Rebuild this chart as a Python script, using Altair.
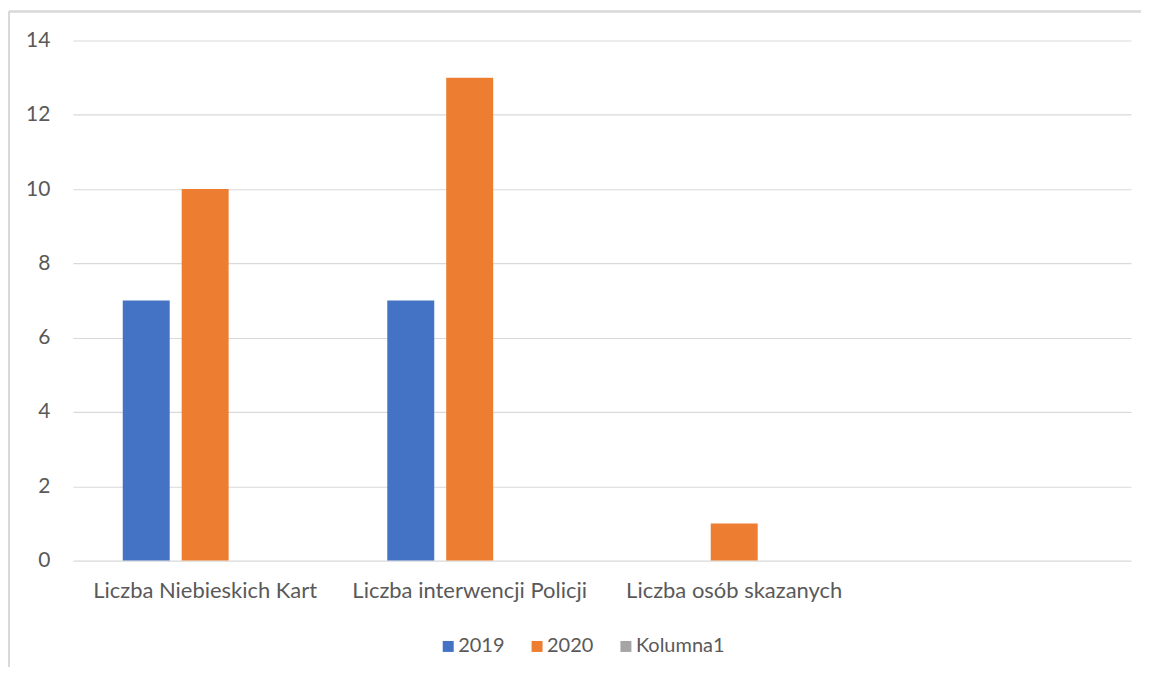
import altair as alt
import pandas as pd

categories = ["Liczba Niebieskich Kart", "Liczba interwencji Policji", "Liczba osób skazanych"]
empty_slot = " "
series = ["2019", "2020", "Kolumna1"]
colors = ["#4472c4", "#ed7d31", "#a5a5a5"]
values_2019 = [7, 7, 0]
values_2020 = [10, 13, 1]
y_ticks = [0, 2, 4, 6, 8, 10, 12, 14]

rows = []
for c, v in zip(categories, values_2019):
    rows.append({"kategoria": c, "seria": "2019", "wartosc": v})
for c, v in zip(categories, values_2020):
    rows.append({"kategoria": c, "seria": "2020", "wartosc": v})
df = pd.DataFrame(rows)

FONT = "Lato"
TXT = "#595959"
FRAME = "#d9d9d9"

bars = alt.Chart(df).mark_bar().encode(
    x=alt.X("kategoria:N", sort=categories + [empty_slot],
            scale=alt.Scale(domain=categories + [empty_slot], paddingInner=0.377, paddingOuter=0.1885),
            axis=alt.Axis(title=None, labelAngle=0, domain=False, ticks=False, grid=False,
                          labelFont=FONT, labelFontSize=22, labelColor=TXT, labelPadding=20,
                          labelLimit=0)),
    xOffset=alt.XOffset("seria:N", scale=alt.Scale(domain=series, paddingInner=0.203)),
    y=alt.Y("wartosc:Q", scale=alt.Scale(domain=[0, 14]),
            axis=alt.Axis(title=None, values=y_ticks, domain=False, ticks=False,
                          gridColor=FRAME, gridWidth=1.2,
                          labelFont=FONT, labelFontSize=21, labelColor=TXT, labelPadding=23)),
    color=alt.Color("seria:N", scale=alt.Scale(domain=series, range=colors),
                    legend=alt.Legend(title=None, orient="none", direction="horizontal",
                                      legendX=366, legendY=597, symbolType="square",
                                      symbolSize=121, symbolStrokeWidth=0, symbolOpacity=1,
                                      labelFont=FONT, labelFontSize=20, labelColor=TXT,
                                      labelOffset=0, columnPadding=22, padding=0)),
)

frame_left = alt.Chart(df).mark_rule(color=FRAME, strokeWidth=1.5).encode(
    x=alt.value(-64), y=alt.value(-29), y2=alt.value(640))
frame_top = alt.Chart(df).mark_rule(color=FRAME, strokeWidth=1.5).encode(
    x=alt.value(-64), x2=alt.value(1100), y=alt.value(-29))

chart = alt.layer(frame_left, frame_top, bars).properties(
    width=1060, height=521,
    background="white",
    autosize=alt.AutoSizeParams(type="none"),
    padding={"left": 65, "top": 32, "right": 10, "bottom": 106},
).configure_view(strokeOpacity=0, strokeWidth=0)

chart.save("out.html", embed_options={"renderer": "svg", "actions": False})
